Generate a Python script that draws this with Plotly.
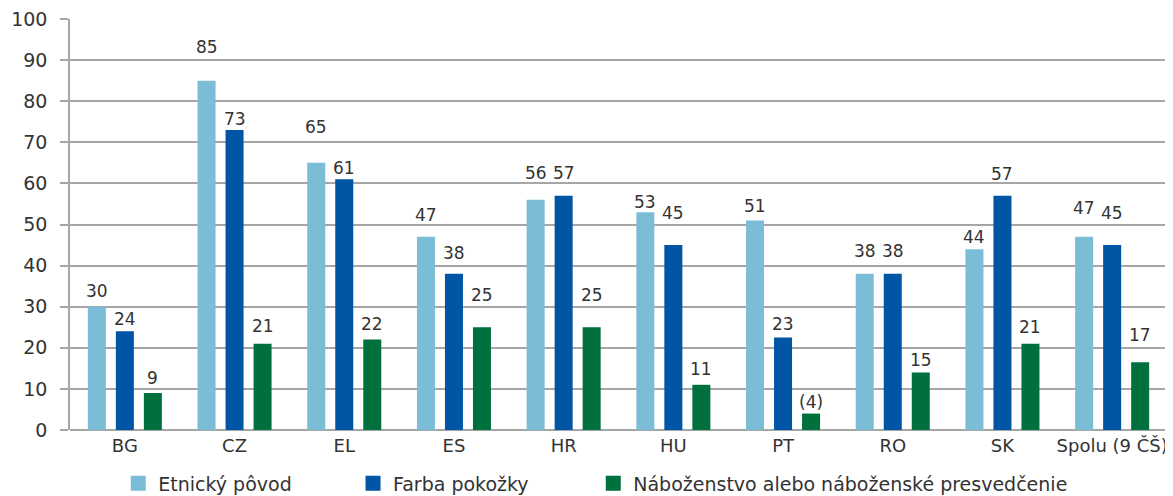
import plotly.graph_objects as go

categories = ["BG", "CZ", "EL", "ES", "HR", "HU", "PT", "RO", "SK", "Spolu (9 ČŠ)"]
series_names = ["Etnický pôvod", "Farba pokožky", "Náboženstvo alebo náboženské presvedčenie"]

etnicky = [30, 85, 65, 47, 56, 53, 51, 38, 44, 47]
farba = [24, 73, 61, 38, 57, 45, 22.5, 38, 57, 45]
nabozenstvo = [9, 21, 22, 25, 25, 11, 4, 14, 21, 16.5]

etnicky_text = ["30", "85", "65", "47", "56", "53", "51", "38", "44", "47"]
farba_text = ["24", "73", "61", "38", "57", "45", "23", "38", "57", "45"]
nabozenstvo_text = ["9", "21", "22", "25", "25", "11", "(4)", "15", "21", "17"]

# Where the data labels sit (value-axis units), as placed in the original chart
etnicky_label_y = [33.8, 93.3, 73.8, 52.3, 62.6, 55.5, 54.5, 43.6, 47.0, 54.1]
farba_label_y = [27.0, 75.7, 63.8, 43.1, 62.6, 52.8, 25.8, 43.6, 62.3, 52.8]
nabozenstvo_label_y = [12.7, 25.3, 25.8, 32.9, 32.9, 14.9, 6.8, 17.0, 25.1, 23.1]

colors = ["#7BBCD7", "#0055A5", "#00713D"]
TEXT = "#333333"
GRID = "#A6A6A6"
FONT = "DejaVu Sans"

# page has an 8px body margin, so the figure is 8px smaller than the window
W, H = 1165, 488
ML, MR, MT, MB = 62, 6, 11, 66
BARGAP = 0.234
GROUPGAP = 0.357
legend_ids = ["legend", "legend2", "legend3"]
legend_x = [0.044, 0.258, 0.477]

fig = go.Figure()
values = [etnicky, farba, nabozenstvo]
texts = [etnicky_text, farba_text, nabozenstvo_text]
label_ys = [etnicky_label_y, farba_label_y, nabozenstvo_label_y]

for name, vals, col in zip(series_names, values, colors):
    fig.add_trace(go.Bar(x=categories, y=vals, name=name, showlegend=False,
                         marker=dict(color=col, line=dict(width=0))))
# legend entries with larger square swatches
for name, col, lid in zip(series_names, colors, legend_ids):
    fig.add_trace(go.Scatter(x=[None], y=[None], mode="markers", name=name, legend=lid,
                             marker=dict(symbol="square", size=15, color=col, line=dict(width=0))))

plot_w = W - ML - MR
slot = plot_w / len(categories) * (1 - BARGAP) / 3
annotations = []
for si, (txts, lys) in enumerate(zip(texts, label_ys)):
    for cat, t, ly in zip(categories, txts, lys):
        annotations.append(dict(
            x=cat, y=ly, xref="x", yref="y", text=t, showarrow=False,
            xshift=(si - 1) * slot, yanchor="middle", xanchor="center",
            font=dict(family=FONT, size=17, color=TEXT),
        ))

legend_common = dict(
    orientation="h", xanchor="left", y=-0.084, yanchor="top",
    font=dict(family=FONT, size=19, color=TEXT),
    itemwidth=30, bgcolor="rgba(0,0,0,0)",
)
layout_legends = {lid: dict(legend_common, x=lx) for lid, lx in zip(legend_ids, legend_x)}

fig.update_layout(
    width=W, height=H,
    margin=dict(l=ML, r=MR, t=MT, b=MB, autoexpand=False),
    paper_bgcolor="white", plot_bgcolor="white",
    barmode="group", bargap=BARGAP, bargroupgap=GROUPGAP,
    font=dict(family=FONT, color=TEXT, size=18),
    showlegend=True,
    annotations=annotations,
    **layout_legends,
)
fig.update_xaxes(
    showgrid=False, showline=False, ticks="", zeroline=False,
    tickfont=dict(family=FONT, size=18, color=TEXT), ticklabelstandoff=3,
    ticklabeloverflow="allow",
)
fig.update_yaxes(
    range=[0, 100], dtick=10, showgrid=True, gridcolor=GRID, gridwidth=1.5,
    showline=True, linecolor=GRID, linewidth=1.5,
    ticks="outside", ticklen=8, tickcolor=GRID, tickwidth=1.5,
    zeroline=True, zerolinecolor=GRID, zerolinewidth=2,
    tickfont=dict(family=FONT, size=19, color=TEXT), ticklabelstandoff=9,
    ticklabeloverflow="allow",
)

fig.write_html("out.html")
